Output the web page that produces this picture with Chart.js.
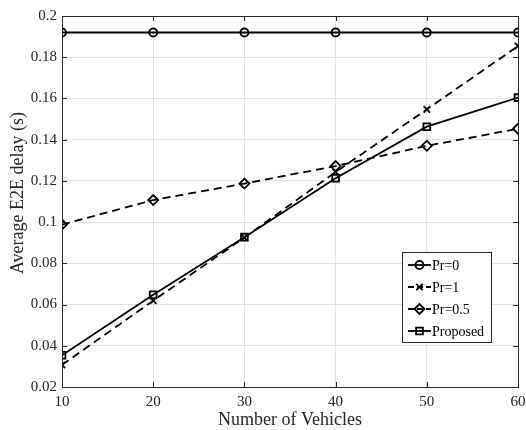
<!DOCTYPE html>
<html><head><meta charset="utf-8">
<script src="https://cdn.jsdelivr.net/npm/chart.js@4"></script>
<style>html,body{margin:0;padding:0;background:#fff}#wrap{width:526px;height:430px}</style>
</head><body><div id="wrap"><canvas id="c" width="526" height="430"></canvas></div>
<script>
const vehicles = [10, 20, 30, 40, 50, 60];
const pr0 = [0.192, 0.192, 0.192, 0.192, 0.192, 0.192];
const pr1 = [0.0307, 0.0619, 0.0925, 0.1243, 0.1547, 0.1854];
const pr05 = [0.0988, 0.1107, 0.1187, 0.1272, 0.1370, 0.1453];
const proposed = [0.0354, 0.0647, 0.0927, 0.1213, 0.1463, 0.1604];
const seriesLabels = ['Pr=0', 'Pr=1', 'Pr=0.5', 'Proposed'];
const yTicks = [0.02, 0.04, 0.06, 0.08, 0.1, 0.12, 0.14, 0.16, 0.18, 0.2];
const xTicks = [10, 20, 30, 40, 50, 60];
const xTitle = 'Number of Vehicles';
const yTitle = 'Average E2E delay (s)';

const FONT = '"Liberation Serif", "Times New Roman", serif';
const INK = '#262626';

function pts(vals) { return vehicles.map((v, i) => ({ x: v, y: vals[i] })); }
function ds(label, vals, style, radius, dashed) {
  return {
    label, data: pts(vals), borderColor: '#000', borderWidth: 1.8,
    borderDash: dashed ? [8, 5] : [], pointStyle: style, pointRadius: radius,
    pointBorderColor: '#000', pointBackgroundColor: 'rgba(0,0,0,0)', pointBorderWidth: 1.8,
    tension: 0, fill: false
  };
}
const datasets = [
  ds(seriesLabels[0], pr0, 'circle', 4, false),
  ds(seriesLabels[1], pr1, 'crossRot', 4.5, true),
  ds(seriesLabels[2], pr05, 'rectRot', 5, true),
  ds(seriesLabels[3], proposed, 'rect', 4.8, false)
];

function drawMarker(ctx, style, r, x, y) {
  ctx.save();
  ctx.strokeStyle = '#000'; ctx.lineWidth = 1.8; ctx.setLineDash([]);
  ctx.beginPath();
  if (style === 'circle') { ctx.arc(x, y, r, 0, Math.PI * 2); }
  else if (style === 'crossRot') { const d = r * Math.SQRT1_2; ctx.moveTo(x - d, y - d); ctx.lineTo(x + d, y + d); ctx.moveTo(x - d, y + d); ctx.lineTo(x + d, y - d); }
  else if (style === 'rectRot') { ctx.moveTo(x - r, y); ctx.lineTo(x, y - r); ctx.lineTo(x + r, y); ctx.lineTo(x, y + r); ctx.closePath(); }
  else if (style === 'rect') { const s = r * Math.SQRT1_2; ctx.rect(x - s, y - s, 2 * s, 2 * s); }
  ctx.stroke();
  ctx.restore();
}

const framePlugin = {
  id: 'frame',
  afterDraw(chart) {
    const ctx = chart.ctx, a = chart.chartArea;
    const xs = chart.scales.x, ys = chart.scales.y;
    ctx.save();
    ctx.strokeStyle = INK; ctx.lineWidth = 1; ctx.setLineDash([]);
    ctx.strokeRect(Math.round(a.left) + 0.5, Math.round(a.top) + 0.5, Math.round(a.right - a.left), Math.round(a.bottom - a.top));
    ctx.beginPath();
    xTicks.forEach(v => {
      const px = Math.round(xs.getPixelForValue(v)) + 0.5;
      ctx.moveTo(px, a.bottom); ctx.lineTo(px, a.bottom - 5);
      ctx.moveTo(px, a.top); ctx.lineTo(px, a.top + 5);
    });
    yTicks.forEach(v => {
      const py = Math.round(ys.getPixelForValue(v)) + 0.5;
      ctx.moveTo(a.left, py); ctx.lineTo(a.left + 5, py);
      ctx.moveTo(a.right, py); ctx.lineTo(a.right - 5, py);
    });
    ctx.stroke();
    ctx.fillStyle = INK;
    ctx.font = '18px ' + FONT;
    ctx.textAlign = 'center'; ctx.textBaseline = 'middle';
    ctx.fillText(xTitle, (a.left + a.right) / 2, 420);
    ctx.save();
    ctx.translate(18, 193); ctx.rotate(-Math.PI / 2);
    ctx.fillText(yTitle, 0, 0);
    ctx.restore();
    const lx = 402, ly = 252, lw = 89, lh = 90;
    ctx.fillStyle = '#fff';
    ctx.fillRect(lx, ly, lw, lh);
    ctx.strokeStyle = INK; ctx.lineWidth = 1;
    ctx.strokeRect(lx + 0.5, ly + 0.5, lw, lh);
    const rows = [265, 287, 309, 331];
    chart.data.datasets.forEach((d, i) => {
      const y = rows[i];
      ctx.save();
      ctx.strokeStyle = '#000'; ctx.lineWidth = 1.8;
      ctx.setLineDash(d.borderDash && d.borderDash.length ? [6, 3] : []);
      ctx.beginPath(); ctx.moveTo(408, y); ctx.lineTo(431, y); ctx.stroke();
      ctx.restore();
      drawMarker(ctx, d.pointStyle, d.pointRadius, 419.5, y);
      ctx.fillStyle = '#000';
      ctx.font = '14px ' + FONT;
      ctx.textAlign = 'left'; ctx.textBaseline = 'middle';
      ctx.fillText(d.label, 432, y + 1);
    });
    ctx.restore();
  }
};

new Chart(document.getElementById('c'), {
  type: 'line',
  data: { datasets },
  options: {
    responsive: false, animation: false,
    layout: { padding: { top: 16, right: 8, left: 0, bottom: 0 } },
    plugins: { legend: { display: false }, tooltip: { enabled: false } },
    scales: {
      x: {
        type: 'linear', min: 10, max: 60,
        afterFit(s) { s.height = 43; s.paddingLeft = 0; s.paddingRight = 0; },
        afterBuildTicks(s) { s.ticks = xTicks.map(v => ({ value: v })); },
        grid: { color: '#e3e3e3', lineWidth: 1, drawTicks: false },
        border: { display: false },
        ticks: { padding: 6, color: INK, font: { family: FONT, size: 15 }, maxRotation: 0, callback: v => String(v) }
      },
      y: {
        type: 'linear', min: 0.02, max: 0.2,
        afterFit(s) { s.width = 62; s.paddingTop = 0; s.paddingBottom = 0; },
        afterBuildTicks(s) { s.ticks = yTicks.map(v => ({ value: v })); },
        grid: { color: '#e3e3e3', lineWidth: 1, drawTicks: false },
        border: { display: false },
        ticks: { padding: 5, color: INK, font: { family: FONT, size: 15 }, callback: v => String(Number(v.toFixed(2))) }
      }
    }
  },
  plugins: [framePlugin]
});
</script>
</body></html>
